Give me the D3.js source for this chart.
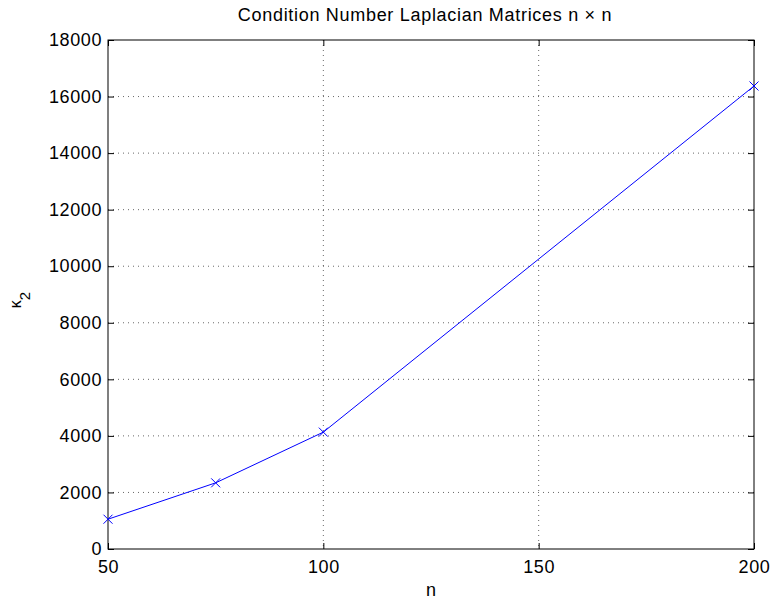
<!DOCTYPE html>
<html><head><meta charset="utf-8">
<script src="https://cdn.jsdelivr.net/npm/d3@7"></script>
<style>body{margin:0;background:#fff}svg{display:block}text{font-family:"Liberation Sans",Arial,sans-serif}</style>
</head><body>
<svg id="c" width="772" height="603"></svg>
<script>
const nValues = [50, 75, 100, 200];
const kappaValues = [1053.5, 2340, 4133, 16373];
const xTicks = [50, 100, 150, 200];
const yTicks = [0, 2000, 4000, 6000, 8000, 10000, 12000, 14000, 16000, 18000];
const title = "Condition Number Laplacian Matrices n \u00d7 n";

const L = 108, R = 754, T = 40, B = 549;
const svg = d3.select("#c");
const x = d3.scaleLinear().domain([50, 200]).range([L, R]);
const y = d3.scaleLinear().domain([0, 18000]).range([B, T]);

// grid
const g = svg.append("g");
g.selectAll(".gx").data(xTicks.slice(1, -1)).enter().append("line")
  .attr("x1", d => x(d)).attr("x2", d => x(d)).attr("y1", T).attr("y2", B)
  .attr("stroke", "#000").attr("stroke-width", 0.6).attr("stroke-dasharray", "1,4");
g.selectAll(".gy").data(yTicks.slice(1, -1)).enter().append("line")
  .attr("y1", d => y(d)).attr("y2", d => y(d)).attr("x1", L).attr("x2", R)
  .attr("stroke", "#000").attr("stroke-width", 0.6).attr("stroke-dasharray", "1,4");

// axes
const fs = "18px";
const xa = d3.axisBottom(x).tickValues(xTicks).tickSize(-6).tickPadding(11).tickFormat(d3.format("d"));
const xa2 = d3.axisTop(x).tickValues(xTicks).tickSize(-6).tickFormat("");
const ya = d3.axisLeft(y).tickValues(yTicks).tickSize(-6).tickPadding(6).tickFormat(d3.format("d"));
const ya2 = d3.axisRight(y).tickValues(yTicks).tickSize(-6).tickFormat("");
function style(sel){ sel.select(".domain").remove(); sel.selectAll("line").attr("stroke","#000");
  sel.selectAll("text").attr("fill","#000").style("font-size", fs).style("letter-spacing","0.6px")
    .style("font-family","Liberation Sans, Arial, sans-serif"); }
svg.append("g").attr("transform", `translate(0,${B})`).call(xa).call(style);
svg.append("g").attr("transform", `translate(0,${T})`).call(xa2).call(style);
svg.append("g").attr("transform", `translate(${L},0)`).call(ya).call(style);
svg.append("g").attr("transform", `translate(${R},0)`).call(ya2).call(style);

svg.append("rect").attr("x", L).attr("y", T).attr("width", R - L).attr("height", B - T)
  .attr("fill", "none").attr("stroke", "#000").attr("stroke-width", 1);

// line
const pts = nValues.map((n, i) => [n, kappaValues[i]]);
svg.append("path").datum(pts)
  .attr("d", d3.line().x(d => x(d[0])).y(d => y(d[1])))
  .attr("fill", "none").attr("stroke", "#0000ff").attr("stroke-width", 1);
const s = 4.5;
svg.selectAll(".mk").data(pts).enter().append("path")
  .attr("d", d => { const cx = x(d[0]), cy = y(d[1]);
    return `M${cx-s},${cy-s}L${cx+s},${cy+s}M${cx-s},${cy+s}L${cx+s},${cy-s}`; })
  .attr("stroke", "#0000ff").attr("stroke-width", 1).attr("fill", "none");

// labels
svg.append("text").attr("x", (L + R) / 2 - 6).attr("y", 21).attr("text-anchor", "middle")
  .style("font-size", "18px").style("letter-spacing", "0.7px").text(title);
svg.append("text").attr("x", (L + R) / 2).attr("y", 596).attr("text-anchor", "middle")
  .style("font-size", "18px").text("n");
const yl = svg.append("text").attr("transform", "translate(21,300) rotate(-90)")
  .attr("text-anchor", "middle").style("font-size", "16px");
yl.append("tspan").text("\u03ba");
yl.append("tspan").attr("dy", 9).style("font-size", "15px").text("2");
</script>
</body></html>
